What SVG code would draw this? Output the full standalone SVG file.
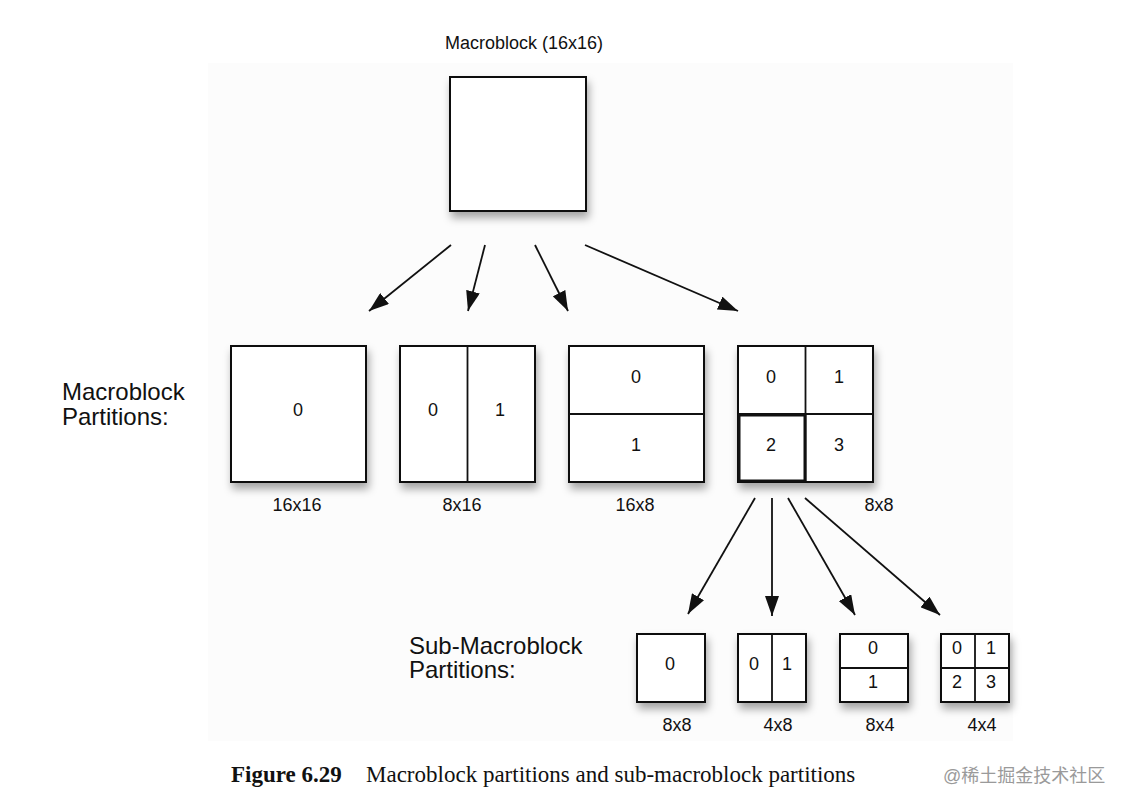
<svg xmlns="http://www.w3.org/2000/svg" width="1127" height="812" viewBox="0 0 1127 812">
<defs>
<filter id="sh" x="-20%" y="-20%" width="150%" height="150%"><feDropShadow dx="2" dy="6" stdDeviation="4" flood-color="#000" flood-opacity="0.35"/></filter>
<marker id="ah2" viewBox="0 0 20 14" refX="20" refY="7" markerWidth="20" markerHeight="14" markerUnits="userSpaceOnUse" orient="auto"><path d="M0,0 L20,7 L0,14 z" fill="#111"/></marker>
</defs>
<style>
.b{fill:#fff;stroke:#111;stroke-width:2;filter:url(#sh)}
.l{stroke:#111;stroke-width:1.8;fill:none}
.t{font-family:"Liberation Sans",Arial,sans-serif;font-size:18px;fill:#111;text-anchor:middle}
.big{font-family:"Liberation Sans",Arial,sans-serif;font-size:24px;fill:#111}
.c{stroke:#111;stroke-width:1.8;fill:none;marker-end:url(#ah2)}
</style>
<rect width="1127" height="812" fill="#fff"/>
<rect x="208" y="63" width="805" height="678" fill="#fcfcfc"/>
<text class="t" x="524" y="49">Macroblock (16x16)</text>
<g id="mb"><rect class="b" x="450" y="77" width="136" height="134"/></g>
<text class="big" x="62" y="400">Macroblock</text>
<text class="big" x="62" y="425">Partitions:</text>
<g id="p16x16"><rect class="b" x="231" y="346" width="135" height="136"/><text class="t" x="298" y="416">0</text><text class="t" x="297" y="511">16x16</text></g>
<g id="p8x16"><rect class="b" x="400" y="346" width="135" height="136"/><line class="l" x1="467.5" y1="346" x2="467.5" y2="482"/><text class="t" x="433" y="416">0</text><text class="t" x="500" y="416">1</text><text class="t" x="462" y="511">8x16</text></g>
<g id="p16x8"><rect class="b" x="569" y="346" width="135" height="136"/><line class="l" x1="569" y1="414" x2="704" y2="414"/><text class="t" x="636" y="383">0</text><text class="t" x="636" y="451">1</text><text class="t" x="635" y="511">16x8</text></g>
<g id="p8x8"><rect class="b" x="738" y="346" width="135" height="136"/><line class="l" x1="805.5" y1="346" x2="805.5" y2="482"/><line class="l" x1="738" y1="414" x2="873" y2="414"/><rect x="739" y="415" width="66" height="66" fill="none" stroke="#111" stroke-width="3"/><text class="t" x="771" y="383">0</text><text class="t" x="839" y="383">1</text><text class="t" x="771" y="451">2</text><text class="t" x="839" y="451">3</text><text class="t" x="879" y="511">8x8</text></g>
<text class="big" x="409" y="654">Sub-Macroblock</text>
<text class="big" x="409" y="678">Partitions:</text>
<g id="s8x8"><rect class="b" x="637" y="634" width="68" height="68"/><text class="t" x="670" y="670">0</text><text class="t" x="677" y="731">8x8</text></g>
<g id="s4x8"><rect class="b" x="738" y="634" width="68" height="68"/><line class="l" x1="772" y1="634" x2="772" y2="702"/><text class="t" x="754" y="670">0</text><text class="t" x="787" y="670">1</text><text class="t" x="778" y="731">4x8</text></g>
<g id="s8x4"><rect class="b" x="840" y="634" width="68" height="68"/><line class="l" x1="840" y1="668" x2="908" y2="668"/><text class="t" x="873" y="654">0</text><text class="t" x="873" y="688">1</text><text class="t" x="880" y="731">8x4</text></g>
<g id="s4x4"><rect class="b" x="941" y="634" width="68" height="68"/><line class="l" x1="975" y1="634" x2="975" y2="702"/><line class="l" x1="941" y1="668" x2="1009" y2="668"/><text class="t" x="957" y="654">0</text><text class="t" x="991" y="654">1</text><text class="t" x="957" y="688">2</text><text class="t" x="991" y="688">3</text><text class="t" x="982" y="731">4x4</text></g>
<g id="connectors">
<line class="c" x1="451" y1="245" x2="369" y2="311"/>
<line class="c" x1="485" y1="245" x2="468" y2="311"/>
<line class="c" x1="535" y1="245" x2="568" y2="311"/>
<line class="c" x1="585" y1="245" x2="738" y2="311"/>
<line class="c" x1="755" y1="498" x2="688" y2="614"/>
<line class="c" x1="772" y1="498" x2="772" y2="616"/>
<line class="c" x1="788" y1="498" x2="855" y2="615"/>
<line class="c" x1="805" y1="498" x2="940" y2="615"/>
</g>
<text x="231" y="782" font-family="Liberation Serif,serif" font-size="23" font-weight="bold" fill="#111">Figure 6.29</text>
<text x="366" y="782" font-family="Liberation Serif,serif" font-size="23" fill="#111">Macroblock partitions and sub-macroblock partitions</text>
<text x="943" y="782" font-family="'Liberation Sans','Noto Sans CJK SC',sans-serif" font-size="18" fill="#9a9a9a">@稀土掘金技术社区</text>
</svg>
